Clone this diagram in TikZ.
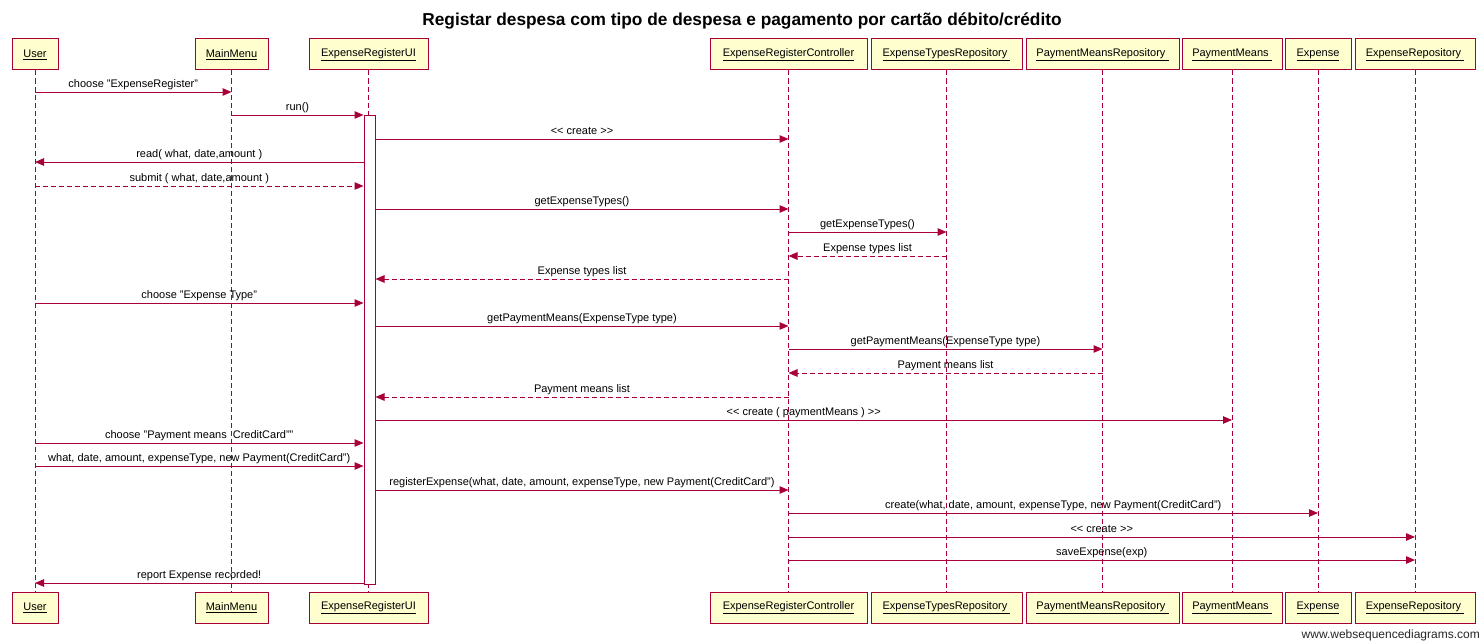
\documentclass[tikz,border=0pt]{standalone}
\usepackage{fontspec}
\setmainfont{Liberation Sans}
\usetikzlibrary{arrows.meta, positioning}
\definecolor{wsdred}{RGB}{168,0,54}
\definecolor{wsdfill}{RGB}{254,254,206}
\tikzset{
	actor/.style={draw=wsdred, fill=wsdfill, line width=1pt, minimum height=31pt, inner sep=0pt, font=\fontsize{11}{13}\selectfont},
	life/.style={wsdred, line width=1pt, dash pattern=on 5pt off 3pt},
	msg/.style={wsdred, line width=1pt, -{Triangle[length=9pt,width=7.5pt]}},
	reply/.style={msg, dash pattern=on 5pt off 3pt},
	lbl/.style={midway, above, inner sep=0pt, yshift=4pt, text depth=0pt, text=black, font=\fontsize{11}{13}\selectfont}
}

\begin{document}
\begin{tikzpicture}[x=1pt,y=-1pt]
		\useasboundingbox (0,0) rectangle (1483,642);
		\node[font=\bfseries\fontsize{17.3}{20}\selectfont] (title) at (742,21) {Registar despesa com tipo de despesa e pagamento por cartão débito/crédito};
		
		% participants, top row
		\draw (35,54.5) node[actor, minimum width=46pt] (user) {\underline{User}}
		(231.5,54.5) node[actor, minimum width=73pt] (menu) {\underline{MainMenu}}
		(368.5,54.5) node[actor, minimum width=119pt] (ui) {\underline{ExpenseRegisterUI}}
		(788.5,54.5) node[actor, minimum width=157pt] (ctrl) {\underline{ExpenseRegisterController}}
		(946.5,54.5) node[actor, minimum width=151pt] (typerepo) {\underline{ExpenseTypesRepository\ }}
		(1102.5,54.5) node[actor, minimum width=153pt] (meansrepo) {\underline{PaymentMeansRepository\ }}
		(1232,54.5) node[actor, minimum width=100pt] (means) {\underline{PaymentMeans\ }}
		(1318,54.5) node[actor, minimum width=66pt] (exp) {\underline{Expense}}
		(1415,54.5) node[actor, minimum width=120pt] (exprepo) {\underline{ExpenseRepository\ }};
		
		% participants, bottom row
		\draw (35,607.5) node[actor, minimum width=46pt] (userb) {\underline{User}}
		(231.5,607.5) node[actor, minimum width=73pt] (menub) {\underline{MainMenu}}
		(368.5,607.5) node[actor, minimum width=119pt] (uib) {\underline{ExpenseRegisterUI}}
		(788.5,607.5) node[actor, minimum width=157pt] (ctrlb) {\underline{ExpenseRegisterController}}
		(946.5,607.5) node[actor, minimum width=151pt] (typerepob) {\underline{ExpenseTypesRepository\ }}
		(1102.5,607.5) node[actor, minimum width=153pt] (meansrepob) {\underline{PaymentMeansRepository\ }}
		(1232,607.5) node[actor, minimum width=100pt] (meansb) {\underline{PaymentMeans\ }}
		(1318,607.5) node[actor, minimum width=66pt] (expb) {\underline{Expense}}
		(1415,607.5) node[actor, minimum width=120pt] (exprepob) {\underline{ExpenseRepository\ }};
		
		% lifelines
		\draw[life] (user) -- (userb);
		\draw[life] (menu) -- (menub);
		\draw[life] (ui) -- (uib);
		\draw[life] (ctrl) -- (ctrlb);
		\draw[life] (typerepo) -- (typerepob);
		\draw[life] (meansrepo) -- (meansrepob);
		\draw[life] (means) -- (meansb);
		\draw[life] (exp) -- (expb);
		\draw[life] (exprepo) -- (exprepob);
		
		\node[draw=wsdred, fill=white, line width=1pt, minimum width=11pt, minimum height=469pt, inner sep=0pt] (bar) at (369.5,349.5) {};
		
		% messages
		\draw[msg] (user |- 0,92) -- (menu |- 0,92) node[lbl] {choose "ExpenseRegister"};
		\draw[msg] (menu |- 0,115) -- (bar.west |- 0,115) node[lbl] {run()};
		\draw[msg] (bar.east |- 0,139) -- (ctrl |- 0,139) node[lbl] {<{}< create >{}>};
		\draw[msg] (bar.west |- 0,162) -- (user |- 0,162) node[lbl] {read( what, date,amount )};
		\draw[reply] (user |- 0,186) -- (bar.west |- 0,186) node[lbl] {submit ( what, date,amount )};
		\draw[msg] (bar.east |- 0,209) -- (ctrl |- 0,209) node[lbl] {getExpenseTypes()};
		\draw[msg] (ctrl |- 0,232) -- (typerepo |- 0,232) node[lbl] {getExpenseTypes()};
		\draw[reply] (typerepo |- 0,256) -- (ctrl |- 0,256) node[lbl] {Expense types list};
		\draw[reply] (ctrl |- 0,279) -- (bar.east |- 0,279) node[lbl] {Expense types list};
		\draw[msg] (user |- 0,303) -- (bar.west |- 0,303) node[lbl] {choose "Expense Type"};
		\draw[msg] (bar.east |- 0,326) -- (ctrl |- 0,326) node[lbl] {getPaymentMeans(ExpenseType type)};
		\draw[msg] (ctrl |- 0,349) -- (meansrepo |- 0,349) node[lbl] {getPaymentMeans(ExpenseType type)};
		\draw[reply] (meansrepo |- 0,373) -- (ctrl |- 0,373) node[lbl] {Payment means list};
		\draw[reply] (ctrl |- 0,397) -- (bar.east |- 0,397) node[lbl] {Payment means list};
		\draw[msg] (bar.east |- 0,420) -- (means |- 0,420) node[lbl] {<{}< create ( paymentMeans ) >{}>};
		\draw[msg] (user |- 0,443) -- (bar.west |- 0,443) node[lbl] {choose "Payment means\ \ CreditCard""};
		\draw[msg] (user |- 0,466) -- (bar.west |- 0,466) node[lbl] {what, date, amount, expenseType, new Payment(CreditCard")};
		\draw[msg] (bar.east |- 0,490) -- (ctrl |- 0,490) node[lbl] {registerExpense(what, date, amount, expenseType, new Payment(CreditCard")};
		\draw[msg] (ctrl |- 0,513) -- (exp |- 0,513) node[lbl] {create(what, date, amount, expenseType, new Payment(CreditCard")};
		\draw[msg] (ctrl |- 0,537) -- (exprepo |- 0,537) node[lbl] {<{}< create >{}>};
		\draw[msg] (ctrl |- 0,560) -- (exprepo |- 0,560) node[lbl] {saveExpense(exp)};
		\draw[msg] (bar.west |- 0,583) -- (user |- 0,583) node[lbl] {report Expense recorded!};
		
		\node[anchor=base east, inner sep=0pt, font=\fontsize{12}{14}\selectfont, text=black!85] (wsd) at (1480,638) {www.websequencediagrams.com};
	\end{tikzpicture}
\end{document}
